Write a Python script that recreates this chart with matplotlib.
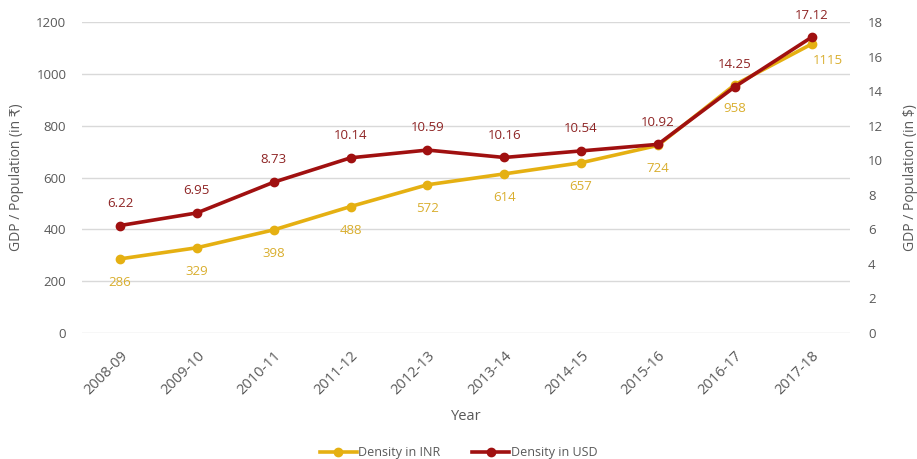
import matplotlib.pyplot as plt

plt.rcParams['font.family'] = ['Open Sans', 'DejaVu Sans']

years = ['2008-09', '2009-10', '2010-11', '2011-12', '2012-13',
         '2013-14', '2014-15', '2015-16', '2016-17', '2017-18']
inr = [286, 329, 398, 488, 572, 614, 657, 724, 958, 1115]
usd = [6.22, 6.95, 8.73, 10.14, 10.59, 10.16, 10.54, 10.92, 14.25, 17.12]

gold = '#E5B012'
red = '#A01010'
gold_txt = '#D9AE2E'
red_txt = '#8E2424'
grey = '#595959'

fig = plt.figure(figsize=(9.17, 4.59), dpi=100)
ax = fig.add_axes([0.089, 0.2745, 0.838, 0.6775])
ax2 = ax.twinx()

x = list(range(len(years)))
l1, = ax.plot(x, inr, color=gold, lw=2.6, marker='o', ms=6, label='Density in INR')
l2, = ax2.plot(x, usd, color=red, lw=2.6, marker='o', ms=6, label='Density in USD')

ax.set_ylim(0, 1200)
ax.set_yticks(range(0, 1201, 200))
ax2.set_ylim(0, 18)
ax2.set_yticks(range(0, 19, 2))
ax.set_xlim(-0.5, 9.5)
ax.set_xticks(x)
ax.set_xticklabels(years, rotation=45, ha='right', rotation_mode='anchor')

ax.grid(axis='y', color='#d9d9d9', lw=1)
ax.set_axisbelow(True)
for a in (ax, ax2):
    for s in a.spines.values():
        s.set_visible(False)
    a.tick_params(length=0, labelsize=9.5, labelcolor=grey)
ax.tick_params(axis='y', pad=11)
ax2.tick_params(axis='y', pad=13)
ax.tick_params(axis='x', pad=11, labelsize=10.5)

ax.set_ylabel('GDP / Population (in ₹)', fontsize=10, color=grey, labelpad=9)
ax2.set_ylabel('GDP / Population (in $)', fontsize=10, color=grey, labelpad=14)
ax.set_xlabel('Year', fontsize=10.5, color=grey, labelpad=8)

# value labels: rupee figures below the points, dollar figures above
for i, v in enumerate(inr):
    if i == len(inr) - 1:
        ax.annotate(str(v), (i, v), xytext=(12, -12), textcoords='offset points',
                    ha='center', va='center', fontsize=9.5, color=gold_txt)
    else:
        ax.annotate(str(v), (i, v), xytext=(0, -17), textcoords='offset points',
                    ha='center', va='center', fontsize=9.5, color=gold_txt)
for i, v in enumerate(usd):
    ax2.annotate(f'{v:.2f}', (i, v), xytext=(0, 16), textcoords='offset points',
                 ha='center', va='center', fontsize=9.5, color=red_txt)

fig.legend(handles=[l1, l2], loc='lower center', bbox_to_anchor=(0.5, -0.025),
           ncol=2, frameon=False, fontsize=9, labelcolor=grey,
           handlelength=3, handletextpad=0.1, columnspacing=2.5)

fig.savefig('out.png', dpi=100)
